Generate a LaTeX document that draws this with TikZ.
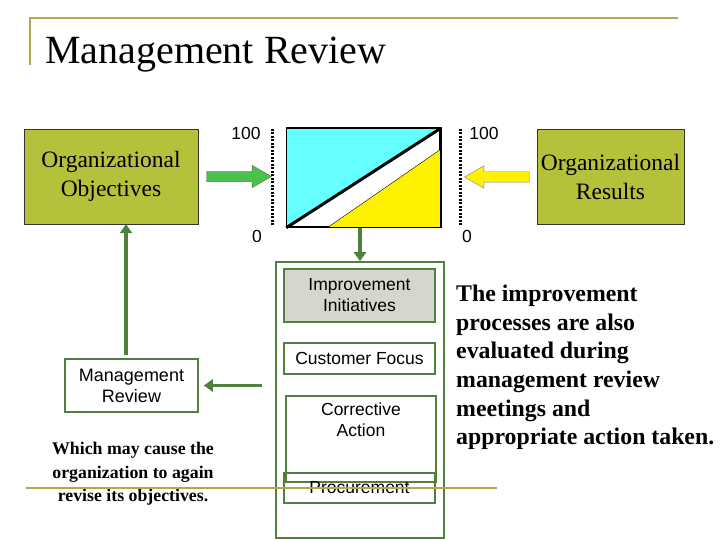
\documentclass[tikz,border=0pt]{standalone}
\usepackage{fontspec}
\setmainfont{Liberation Serif}
\setsansfont{Liberation Sans}
\usetikzlibrary{positioning,arrows.meta,shapes.arrows}
\definecolor{slideline}{RGB}{184,165,80}
\definecolor{olivebox}{RGB}{181,192,59}
\definecolor{darkgreen}{RGB}{80,128,62}
\definecolor{litegreen}{RGB}{76,192,76}
\definecolor{chartcyan}{RGB}{102,255,255}
\definecolor{greybox}{RGB}{212,216,204}
\tikzset{
  goalbox/.style={draw=black!80, fill=olivebox, minimum height=95pt, align=center, font=\fontsize{23.5}{29}\selectfont},
  chartbox/.style={draw=black, line width=1.5pt, minimum width=153pt, minimum height=98pt, inner sep=0pt},
  stepbox/.style={draw=darkgreen, line width=1.6pt, minimum width=151pt, align=center, font=\sffamily\fontsize{17.5}{21}\selectfont},
  holder/.style={draw=darkgreen, line width=1.6pt, minimum width=168pt, minimum height=276pt},
  scalelabel/.style={font=\sffamily\fontsize{17.5}{19}\selectfont, inner sep=0pt},
  scaleline/.style={line width=3pt, dash pattern=on 2pt off 1.5pt},
  blockarrow/.style={single arrow, minimum height=65pt, minimum width=22pt, single arrow tip angle=60, single arrow head extend=6pt, inner sep=5pt},
  flowarrow/.style={darkgreen, line width=3.5pt, -{Triangle[length=9pt,width=12pt]}},
  remark/.style={font=\bfseries\fontsize{17.8}{23.5}\selectfont, align=center, inner sep=0pt}
}
\begin{document}
\begin{tikzpicture}[x=1pt, y=-1pt]
  \useasboundingbox (0,0) rectangle (720,540);
  % slide frame and title
  \draw[slideline, line width=2pt] (30,65) -- (30,18) -- (678,18);
  \node[anchor=base west, inner sep=0pt, font=\fontsize{40}{44}\selectfont] (title) at (45,64) {Management Review};

  \node[goalbox, minimum width=174pt] (obj) at (111,176.5) {Organizational\\ Objectives};
  \node[goalbox, minimum width=147pt] (res) at (610.5,176.5) {Organizational\\ Results};

  % chart
  \node[chartbox] (chart) at (363.5,178) {};
  \fill[chartcyan] (chart.south west) -- (chart.north west) -- (chart.north east) -- cycle;
  \filldraw[fill=yellow, draw=black, thin] ([xshift=41pt]chart.south west) -- ([yshift=-21pt]chart.north east) -- (chart.south east) -- cycle;
  \draw[line width=3pt] (chart.south west) -- (chart.north east);
  \draw[line width=1.5pt] (chart.south west) rectangle (chart.north east);

  \coordinate (lt) at (272,129);
  \coordinate (lb) at (272,227);
  \coordinate (rt) at (460,129);
  \coordinate (rb) at (460,227);
  \draw[scaleline] (lt) -- (lb);
  \draw[scaleline] (rt) -- (rb);
  \node[scalelabel] (lhi) at (246,133) {100};
  \node[scalelabel] (llo) at (257,236) {0};
  \node[scalelabel] (rhi) at (484,133) {100};
  \node[scalelabel] (rlo) at (467,236) {0};

  \node[blockarrow, fill=litegreen, draw=darkgreen] (objarrow) at (234.5,176.5) {};
  \node[blockarrow, fill=yellow, draw=black!50, shape border rotate=180] (resarrow) at (501.5,177) {};

  % improvement processes
  \node[holder] (cont) at (360,400) {};
  \node[stepbox, fill=greybox, minimum height=53pt] (impr) at (359.5,295.5) {Improvement\\ Initiatives};
  \node[stepbox, minimum height=31pt] (cust) at (359.5,358.5) {Customer Focus};
  \node[stepbox, minimum width=150pt, minimum height=86pt] (corr) at (361,439) {};
  \node[font=\sffamily\fontsize{17.5}{21}\selectfont, align=center, below=4pt of corr.north] (corrtxt) {Corrective\\ Action};
  \node[stepbox, minimum height=30pt] (proc) at (359.5,488) {Procurement};

  \node[stepbox, minimum width=133pt, minimum height=53pt, font=\sffamily\fontsize{18}{21}\selectfont] (mrev) at (131.5,385.5) {Management\\ Review};

  \draw[flowarrow] (chart.south -| cont.north) -- (cont.north);
  \draw[flowarrow] ([xshift=-13pt]cont.west |- mrev.east) -- ([xshift=5pt]mrev.east);
  \coordinate (upfoot) at (126,355);
  \draw[flowarrow] (upfoot) -- (upfoot |- obj.south);

  \node[remark] (which) at (133,474) {Which may cause the\\ organization to again\\ revise its objectives.};
  \node[anchor=west, align=left, inner sep=0pt, font=\bfseries\fontsize{23.8}{28.7}\selectfont] (note) at (456,367.5) {The improvement\\ processes are also\\ evaluated during\\ management review\\ meetings and\\ appropriate action taken.};

  \draw[slideline, line width=2pt] (26,487.5) -- (497,487.5);
\end{tikzpicture}
\end{document}
